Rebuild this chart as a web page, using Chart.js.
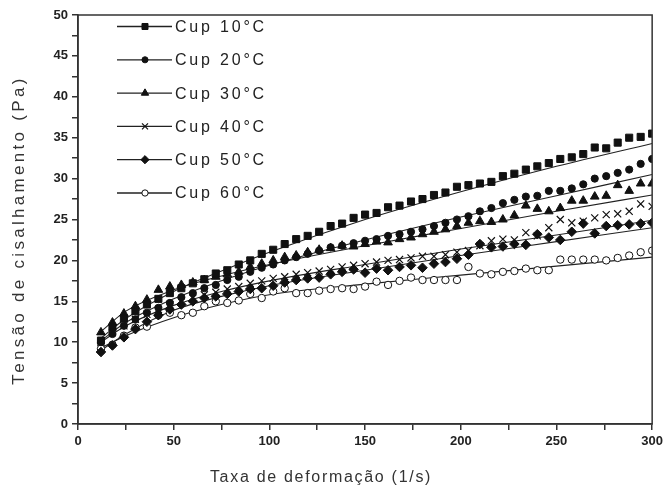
<!DOCTYPE html>
<html>
<head>
<meta charset="utf-8">
<script src="https://cdn.jsdelivr.net/npm/chart.js@4.4.1/dist/chart.umd.min.js"></script>
<style>
  html, body { margin: 0; padding: 0; background: #fff; }
  #wrap { width: 667px; height: 491px; }
</style>
</head>
<body>
<div id="wrap"><canvas id="grafico" width="667" height="491"></canvas></div>
<script>
// taxa de deformação (1/s)
const shearRate = [12, 18, 24, 30, 36, 42, 48, 54, 60, 66, 72, 78, 84, 90, 96, 102, 108, 114, 120, 126,
  132, 138, 144, 150, 156, 162, 168, 174, 180, 186, 192, 198, 204, 210, 216, 222, 228, 234, 240, 246,
  252, 258, 264, 270, 276, 282, 288, 294, 300];

// tensão de cisalhamento (Pa)
const cup10 = [10.2, 11.8, 12.9, 13.8, 14.6, 15.3, 16.0, 16.6, 17.2, 17.7, 18.4, 18.8, 19.5, 20.0, 20.8, 21.3, 22.0, 22.6, 23.0, 23.5,
  24.2, 24.5, 25.2, 25.6, 25.8, 26.5, 26.7, 27.2, 27.5, 28.0, 28.3, 29.0, 29.2, 29.4, 29.6, 30.3, 30.6, 31.1, 31.5, 31.9,
  32.4, 32.6, 33.0, 33.8, 33.7, 34.4, 35.0, 35.1, 35.5];
const cup20 = [10.0, 11.0, 12.0, 12.8, 13.6, 14.2, 14.8, 15.5, 16.0, 16.6, 17.0, 17.6, 18.0, 18.6, 19.1, 19.5, 20.0, 20.4, 20.8, 21.2,
  21.6, 21.8, 22.1, 22.4, 22.6, 23.0, 23.2, 23.5, 23.8, 24.2, 24.6, 25.0, 25.4, 26.0, 26.4, 27.0, 27.4, 27.8, 27.9, 28.5,
  28.5, 28.8, 29.3, 30.0, 30.3, 30.7, 31.1, 31.8, 32.4];
const cup30 = [11.2, 12.4, 13.5, 14.4, 15.2, 16.4, 16.8, 17.0, 17.3, 17.6, 18.0, 18.3, 18.6, 19.2, 19.6, 20.0, 20.4, 20.6, 21.0, 21.3,
  21.5, 21.8, 21.7, 22.0, 22.3, 22.2, 22.6, 22.8, 23.2, 23.5, 23.8, 24.2, 24.6, 24.8, 24.7, 25.0, 25.5, 26.7, 26.3, 26.0,
  26.4, 27.3, 27.3, 27.8, 27.9, 29.2, 28.5, 29.4, 29.4];
const cup40 = [10.0, 11.2, 12.0, 12.8, 13.4, 14.0, 14.6, 15.0, 15.4, 15.8, 16.1, 16.5, 16.8, 17.2, 17.5, 17.8, 18.0, 18.3, 18.5, 18.7,
  18.9, 19.2, 19.4, 19.6, 19.8, 20.0, 20.1, 20.3, 20.5, 20.5, 20.7, 21.0, 21.2, 21.8, 22.4, 22.6, 22.5, 23.4, 23.0, 24.0,
  25.0, 24.6, 24.8, 25.2, 25.6, 25.7, 26.0, 26.9, 26.6];
const cup50 = [8.8, 9.6, 10.6, 11.6, 12.5, 13.3, 14.0, 14.6, 15.0, 15.4, 15.6, 15.9, 16.2, 16.5, 16.6, 16.9, 17.3, 17.6, 17.8, 17.9,
  18.3, 18.6, 18.9, 18.5, 19.0, 18.8, 19.2, 19.4, 19.1, 19.6, 19.8, 20.2, 20.7, 22.0, 21.6, 21.7, 22.0, 21.9, 23.2, 22.8,
  22.5, 23.5, 24.5, 23.3, 24.2, 24.3, 24.4, 24.5, 24.6];
const cup60 = [9.2, 9.7, 10.8, 11.8, 11.9, 13.3, 13.6, 13.3, 13.6, 14.4, 15.0, 14.8, 15.1, 15.9, 15.4, 16.2, 16.6, 16.0, 16.0, 16.3,
  16.5, 16.6, 16.5, 16.8, 17.4, 17.0, 17.5, 17.9, 17.6, 17.6, 17.6, 17.6, 19.2, 18.4, 18.3, 18.6, 18.7, 19.0, 18.8, 18.8,
  20.1, 20.1, 20.1, 20.1, 20.0, 20.3, 20.6, 21.0, 21.2];

// curvas ajustadas
const fitX = [12, 25, 50, 75, 100, 150, 200, 250, 300];
const fit10 = [10.5, 12.9, 16.2, 18.7, 21.0, 25.0, 28.4, 31.5, 34.3];
const fit20 = [10.2, 12.4, 15.3, 17.5, 19.4, 22.5, 25.3, 27.9, 30.5];
const fit30 = [11.3, 13.8, 16.4, 18.1, 19.5, 21.8, 23.9, 26.0, 28.0];
const fit40 = [10.0, 12.0, 14.5, 16.2, 17.5, 19.5, 21.4, 23.1, 24.9];
const fit50 = [9.0, 11.0, 13.9, 15.6, 16.9, 18.8, 20.6, 22.3, 24.0];
const fit60 = [9.3, 10.8, 13.0, 14.6, 15.8, 17.1, 18.2, 19.3, 20.4];

const labels = ["Cup 10°C", "Cup 20°C", "Cup 30°C", "Cup 40°C", "Cup 50°C", "Cup 60°C"];
const series = [cup10, cup20, cup30, cup40, cup50, cup60];
const fits = [fit10, fit20, fit30, fit40, fit50, fit60];

const ink = "#111";
const markers = [
  { pointStyle: "rect", radius: 5, bg: ink, bw: 1 },
  { pointStyle: "circle", radius: 3.6, bg: ink, bw: 1 },
  { pointStyle: "triangle", radius: 5, bg: ink, bw: 1 },
  { pointStyle: "crossRot", radius: 5, bg: ink, bw: 1.2 },
  { pointStyle: "rectRot", radius: 4.8, bg: ink, bw: 1 },
  { pointStyle: "circle", radius: 3.7, bg: "#fff", bw: 1 }
];

const toPoints = (xs, ys) => xs.map((x, i) => ({ x: x, y: ys[i] }));

const datasets = [];
series.forEach((ys, i) => {
  datasets.push({
    label: labels[i],
    type: "scatter",
    data: toPoints(shearRate, ys),
    pointStyle: markers[i].pointStyle,
    pointRadius: markers[i].radius,
    pointBackgroundColor: markers[i].bg,
    pointBorderColor: ink,
    pointBorderWidth: markers[i].bw,
    showLine: false,
    order: 1
  });
});
fits.forEach((ys, i) => {
  datasets.push({
    label: labels[i] + " ajuste",
    type: "line",
    data: toPoints(fitX, ys),
    borderColor: "#222",
    borderWidth: 1.1,
    pointRadius: 0,
    fill: false,
    cubicInterpolationMode: "monotone",
    order: 2
  });
});

// moldura + legenda + títulos dos eixos
const extras = {
  id: "extras",
  afterDraw(chart) {
    const ctx = chart.ctx;
    const a = chart.chartArea;
    ctx.save();
    ctx.strokeStyle = "#333";
    ctx.lineWidth = 1.5;
    ctx.strokeRect(a.left, a.top, a.right - a.left, a.bottom - a.top);

    // legenda
    ctx.font = "16px 'Liberation Sans', Arial, sans-serif";
    ctx.letterSpacing = "2.8px";
    ctx.textBaseline = "middle";
    labels.forEach((lab, i) => {
      const y = 26.5 + i * 33.3;
      ctx.strokeStyle = "#222";
      ctx.lineWidth = 1.3;
      ctx.beginPath();
      ctx.moveTo(117, y);
      ctx.lineTo(172, y);
      ctx.stroke();
      ctx.fillStyle = markers[i].bg;
      ctx.strokeStyle = ink;
      ctx.lineWidth = markers[i].bw;
      Chart.helpers.drawPoint(ctx, { pointStyle: markers[i].pointStyle, radius: markers[i].radius * 0.85, rotation: 0, borderWidth: markers[i].bw }, 145, y);
      ctx.fillStyle = "#222";
      ctx.fillText(lab, 175, y + 1);
    });

    // títulos
    ctx.fillStyle = "#333";
    ctx.font = "16px 'Liberation Sans', Arial, sans-serif";
    ctx.letterSpacing = "1.7px";
    ctx.textAlign = "center";
    ctx.fillText("Taxa de deformação (1/s)", 321, 478);
    ctx.translate(19, 230);
    ctx.rotate(-Math.PI / 2);
    ctx.letterSpacing = "3.3px";
    ctx.font = "17px 'Liberation Sans', Arial, sans-serif";
    ctx.fillText("Tensão de cisalhamento (Pa)", 0, 0);
    ctx.restore();
  }
};

const tickFont = { family: "'Liberation Sans', Arial, sans-serif", size: 13, weight: "bold" };

new Chart(document.getElementById("grafico"), {
  type: "scatter",
  data: { datasets: datasets },
  options: {
    responsive: false,
    animation: false,
    layout: { padding: { left: 0, right: 13, top: 15, bottom: 0 } },
    plugins: {
      legend: { display: false },
      tooltip: { enabled: false }
    },
    scales: {
      x: {
        type: "linear",
        min: 0,
        max: 300,
        grid: { display: true, drawOnChartArea: false, drawTicks: true, tickLength: 6, color: "#333", lineWidth: 1.5 },
        border: { display: true, color: "#333", width: 1.5 },
        ticks: {
          stepSize: 25,
          autoSkip: false,
          maxRotation: 0,
          color: "#222",
          font: tickFont,
          padding: 4,
          callback: v => (v % 50 === 0 ? v : "")
        },
        afterFit: s => { s.height = 67; }
      },
      y: {
        type: "linear",
        min: 0,
        max: 50,
        grid: { display: true, drawOnChartArea: false, drawTicks: true, tickLength: 6, color: "#333", lineWidth: 1.5 },
        border: { display: true, color: "#333", width: 1.5 },
        ticks: {
          stepSize: 2.5,
          autoSkip: false,
          color: "#222",
          font: tickFont,
          padding: 4,
          callback: v => (v % 5 === 0 ? v : "")
        },
        afterFit: s => { s.width = 78; }
      }
    }
  },
  plugins: [extras]
});
</script>
</body>
</html>
